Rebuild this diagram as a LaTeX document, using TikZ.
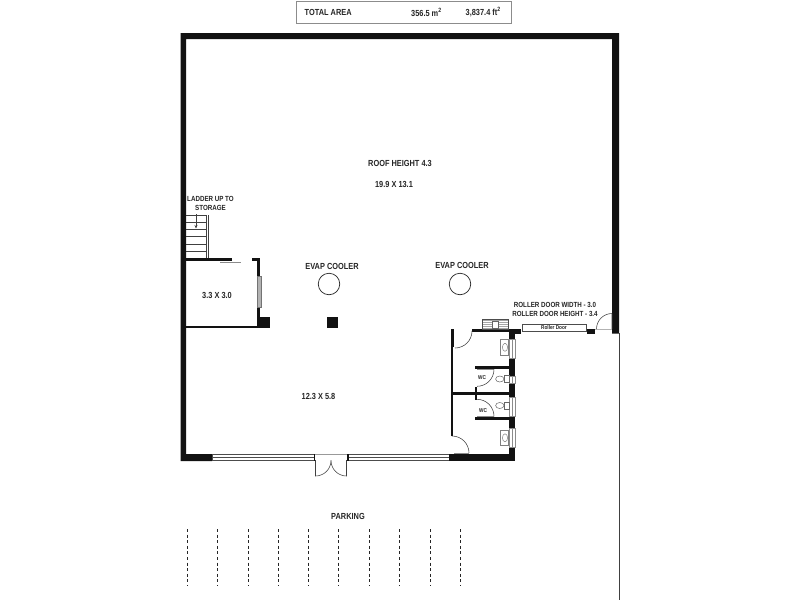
\documentclass[tikz,border=0pt]{standalone}
\usepackage{fontspec}
\usetikzlibrary{arrows.meta}
\setmainfont[FakeStretch=0.84]{Liberation Sans}
\definecolor{wallc}{gray}{0.07}
\definecolor{frame}{gray}{0.55}
\tikzset{
  thin line/.style={draw=black!75,line width=0.55pt},
  gray line/.style={draw=black!45,line width=0.9pt},
  glass/.style={fill=white,draw=black!70,line width=0.5pt},
  winv/.style={fill=white,draw=black!45,line width=0.5pt},
  fix/.style={fill=white,draw=black!60,line width=0.5pt},
  lbl/.style={font=\fontsize{8.8}{10}\selectfont\bfseries,text=black!85,inner sep=0pt,align=center},
  lblsm/.style={font=\fontsize{7.4}{9}\selectfont\bfseries,text=black!85,inner sep=0pt,align=center},
  small/.style={font=\fontsize{5.6}{6}\selectfont\bfseries,text=black!85,inner sep=0pt},
  parkline/.style={draw=black!85,line width=0.8pt,dash pattern=on 3pt off 2.6pt}
}
\begin{document}
\begin{tikzpicture}[x=1pt,y=-1pt]
\useasboundingbox[fill=white] (0,0) rectangle (800,600);
% header box
\draw[frame,line width=0.8pt] (296.5,1.5) rectangle (511.5,23);
\node[lbl,anchor=west] (total) at (304.5,12.3) {TOTAL AREA};
\node[lbl,anchor=west] (m) at (411,12.3) {356.5 m\textsuperscript{2}};
\node[lbl,anchor=west] (ft) at (465.5,12.3) {3,837.4 ft\textsuperscript{2}};
% outer walls
\fill[wallc] (180.5,33) -- (619,33) -- (619,333.5) -- (612,333.5) -- (612,39) -- (186,39) -- (186,454) -- (212,454) -- (212,461) -- (180.5,461) -- cycle;
% front windows and entry
\draw[glass] (212,454.2) rectangle (314,460.5);
\draw[black!70,line width=0.5pt] (212,457.3) -- (314,457.3);
\draw[glass] (348,454.2) rectangle (449,460.5);
\draw[black!70,line width=0.5pt] (348,457.3) -- (449,457.3);
\draw[thin line,draw=black!40] (314,454.2) -- (348,454.2);
\fill[wallc] (313.5,454) rectangle (314.7,461);
\fill[wallc] (347.3,454) rectangle (348.5,461);
\draw[thin line] (315.5,460) -- (315.5,476) arc[start angle=90,end angle=0,radius=15.5];
\draw[thin line] (346.5,460) -- (346.5,476) arc[start angle=90,end angle=180,radius=15.5];
% small room
\fill[wallc] (186,258) rectangle (232,261);
\fill[wallc] (252,258) rectangle (260,261);
\fill[wallc] (257,258) rectangle (260,318);
\fill[wallc] (186,325.5) rectangle (258,328);
\fill[wallc] (257,317) rectangle (270,328);
\fill[wallc] (327,317) rectangle (338,328);
\draw[gray line] (220,262) -- (241,262);
\draw[fill=black!30,draw=black!55,line width=0.4pt] (256.8,276) rectangle (261,307);
% stair
\foreach \yy in {215,222,229,236,244,251}{\draw[thin line] (186,\yy) -- (206,\yy);}
\draw[thin line] (206,215) -- (206,258);
\draw[thin line] (208.3,215) -- (208.3,258);
\draw[thin line,-{Stealth[length=3.5pt,width=3pt]}] (196,214) -- (196,228.5);
% coolers
\node[draw=black!85,line width=0.7pt,circle,minimum size=21.5pt,inner sep=0pt] (c1) at (329,284) {};
\node[draw=black!85,line width=0.7pt,circle,minimum size=21.5pt,inner sep=0pt] (c2) at (460,284) {};
% WC block walls
\fill[wallc] (450.5,328.5) rectangle (454,347);
\fill[wallc] (450.5,347) rectangle (453,436);
\fill[wallc] (472,329) rectangle (521,331.5);
\fill[wallc] (509,329) rectangle (521,334);
\fill[wallc] (587,329) rectangle (595,333.5);
\fill[wallc] (509,329) rectangle (515,461);
\fill[wallc] (449,454) rectangle (515,460.5);
\fill[wallc] (474.5,366) rectangle (509,368.6);
\fill[wallc] (452,392) rectangle (509,394.6);
\fill[wallc] (474.5,417) rectangle (509,420);
\fill[wallc] (474.5,387) rectangle (476.8,400);
% wc windows
\foreach \ya/\yb in {339/358,376/383,397/416,428/447}{
  \draw[winv] (509.3,\ya) rectangle (515,\yb);
  \draw[black!45,line width=0.4pt] (512,\ya) -- (512,\yb);
}
% door swings
\draw[thin line] (472,331) arc[start angle=0,end angle=90,radius=17];
\draw[thin line] (452,436) arc[start angle=-90,end angle=0,radius=17];
\draw[gray line] (454,453.3) -- (469,453.3);
\draw[gray line,line width=0.5pt] (477,369.3) -- (494,369.3);
\draw[thin line] (494,369.3) arc[start angle=0,end angle=90,radius=17];
\draw[gray line,line width=0.5pt] (477,416.3) -- (494,416.3);
\draw[thin line] (494,416.3) arc[start angle=0,end angle=-90,radius=17];
\draw[thin line] (612,313.5) -- (612,329) (612,313.5) arc[start angle=-90,end angle=-180,radius=15.5];
\draw[black!30,line width=0.3pt] (595,329) -- (612,329);
% toilets
\foreach \yc in {379,405.5}{
  \draw[fix] (499.8,\yc) ellipse[x radius=4.2,y radius=3];
  \draw[fix] (504,\yc-3.5) rectangle (509,\yc+3.5);
}
% basins
\foreach \ya in {339.5,430}{
  \draw[fill=white,draw=black!50,line width=0.5pt] (500,\ya) rectangle (508.5,\ya+15.5);
  \draw[black!50,line width=0.5pt] (505,\ya+7.8) ellipse[x radius=2.6,y radius=4];
}
% vent
\draw[fill=black!35,draw=black!70,line width=0.5pt] (482.5,319) rectangle (508,329);
\foreach \yy in {321,323,325,327}{\draw[white,line width=0.4pt] (483,\yy) -- (507.5,\yy);}
\draw[fill=white,draw=black!60,line width=0.4pt] (492.5,321) rectangle (498,328);
% roller door
\node[draw=black!70,fill=white,line width=0.5pt,minimum width=64pt,minimum height=6.6pt,inner sep=0pt] (roller) at (554,327.5) {};
\node[small] at (roller) {Roller Door};
% fence
\coordinate (f1) at (619,333);
\coordinate (f2) at (619,600);
\draw[black!75,line width=0.6pt] (f1) -- (f2);
% labels
\node[lbl] (roof) at (400,163.5) {ROOF HEIGHT 4.3};
\node[lbl] (dim1) at (394,184) {19.9 X 13.1};
\node[lblsm] (ladder) at (210.5,203.5) {LADDER UP TO\\[0.2pt]STORAGE};
\node[lbl] (ev1) at (332,266) {EVAP COOLER};
\node[lbl] (ev2) at (462,265.5) {EVAP COOLER};
\node[lbl] (room) at (217,295) {3.3 X 3.0};
\node[lbl] (dim2) at (318.5,396) {12.3 X 5.8};
\node[lblsm] (rw) at (555,305) {ROLLER DOOR WIDTH - 3.0};
\node[lblsm] (rh) at (555,314) {ROLLER DOOR HEIGHT - 3.4};
\node[small] (wc1) at (482,378) {WC};
\node[small] (wc2) at (483,411) {WC};
\node[lbl] (park) at (348,516) {PARKING};
% parking
\foreach \xx in {187.3,217.7,248,278,308.7,338.7,369.7,399.7,430,460}{\draw[parkline] (\xx,529) -- (\xx,586);}
\end{tikzpicture}
\end{document}
